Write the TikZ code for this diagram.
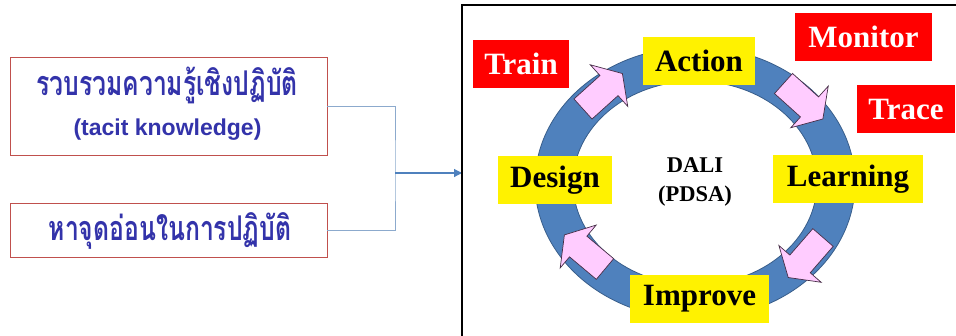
\documentclass[tikz,border=0pt]{standalone}
\usepackage{fontspec}
\usepackage{graphicx}
\setmainfont{Liberation Serif}
\newfontfamily\thaifont[Script=Thai]{Loma}
\newfontfamily\arialfont{Liberation Sans}
\usetikzlibrary{arrows.meta}
\definecolor{ringblue}{RGB}{79,129,189}
\definecolor{ringedge}{RGB}{56,93,138}
\definecolor{pinkfill}{RGB}{255,204,255}
\definecolor{pinkedge}{RGB}{70,45,70}
\definecolor{thaiblue}{RGB}{51,51,170}
\definecolor{boxred}{RGB}{192,80,77}
\definecolor{linkblue}{RGB}{140,170,205}
\definecolor{arrowblue}{RGB}{79,129,189}
\tikzset{
  thaibox/.style={draw=boxred, line width=0.9pt, fill=white, minimum width=317pt, inner sep=0pt},
  thaitext/.style={anchor=base, inner sep=0pt, text=thaiblue, font=\fontsize{24}{28}\selectfont\thaifont\bfseries},
  engtext/.style={anchor=base, inner sep=0pt, text=thaiblue, font=\fontsize{23}{28}\selectfont\arialfont\bfseries},
  ybox/.style={fill=yellow, minimum height=48pt, inner sep=0pt, font=\fontsize{31}{36}\selectfont\bfseries},
  rbox/.style={fill=red, text=white, minimum height=48pt, inner sep=0pt, font=\fontsize{31}{36}\selectfont\bfseries},
  pinkarrow/.style={fill=pinkfill, draw=pinkedge, line width=0.7pt, line join=miter},
  link/.style={draw=linkblue, line width=1pt},
}
\newcommand{\blockarr}[3]{%
  \begin{scope}[shift={(#1,#2)}, rotate=#3]
    \path[pinkarrow] (0,-13.5) -- (35,-13.5) -- (35,-28) -- (53,0) -- (35,28) -- (35,13.5) -- (0,13.5) -- cycle;
  \end{scope}}
\newcommand{\tallthai}[1]{\scalebox{1.03}[1.42]{#1}}
\begin{document}
\begin{tikzpicture}[x=1pt, y=-1pt]
\useasboundingbox (0,0) rectangle (956,335);
% left boxes
\node[thaibox, minimum height=98pt] (b1) at (168.5,106) {};
\node[thaibox, minimum height=54pt] (b2) at (168.5,230) {};
\node[thaitext] (t1) at (167,95) {\tallthai{รวบรวมความรู้เชิงปฏิบัติ}};
\node[engtext] (t2) at (167.5,135) {(tacit knowledge)};
\node[thaitext] (t3) at (170,240) {\tallthai{หาจุดอ่อนในการปฏิบัติ}};
% connectors
\coordinate (jn) at (395,173);
\coordinate (fr) at (462,173);
\draw[link] (b1.east) -| (jn) |- (b2.east);
\draw[draw=arrowblue, line width=1.2pt, -{Triangle[length=8pt,width=8pt]}] (jn) -- (fr);
% frame
\draw[line width=1.2pt] (462,336) -- (462,5) -- (957,5);
% ring
\path[fill=ringblue, draw=ringedge, line width=0.8pt, even odd rule]
  (695,183) ellipse [x radius=160, y radius=136]
  (695,183) ellipse [x radius=122, y radius=102];
% pink arrows
\blockarr{583}{109}{42}
\blockarr{783.5}{83.5}{-42}
\blockarr{823}{237.5}{-131}
\blockarr{605}{269}{140}
% labels
\node[ybox, minimum width=112pt] (action) at (699,61) {Action};
\node[ybox, minimum width=114pt] (design) at (555,180) {Design};
\node[ybox, minimum width=150pt] (learning) at (848,179) {Learning};
\node[ybox, minimum width=139pt] (improve) at (699.5,299) {Improve};
\node[rbox, minimum width=96pt] (train) at (521,64) {Train};
\node[rbox, minimum width=137pt] (monitor) at (863.5,36.5) {Monitor};
\node[rbox, minimum width=98pt] (trace) at (906,109) {Trace};
\node[align=center, font=\fontsize{22.5}{29}\selectfont\bfseries] (dali) at (695,182) {DALI\\(PDSA)};
\end{tikzpicture}
\end{document}
